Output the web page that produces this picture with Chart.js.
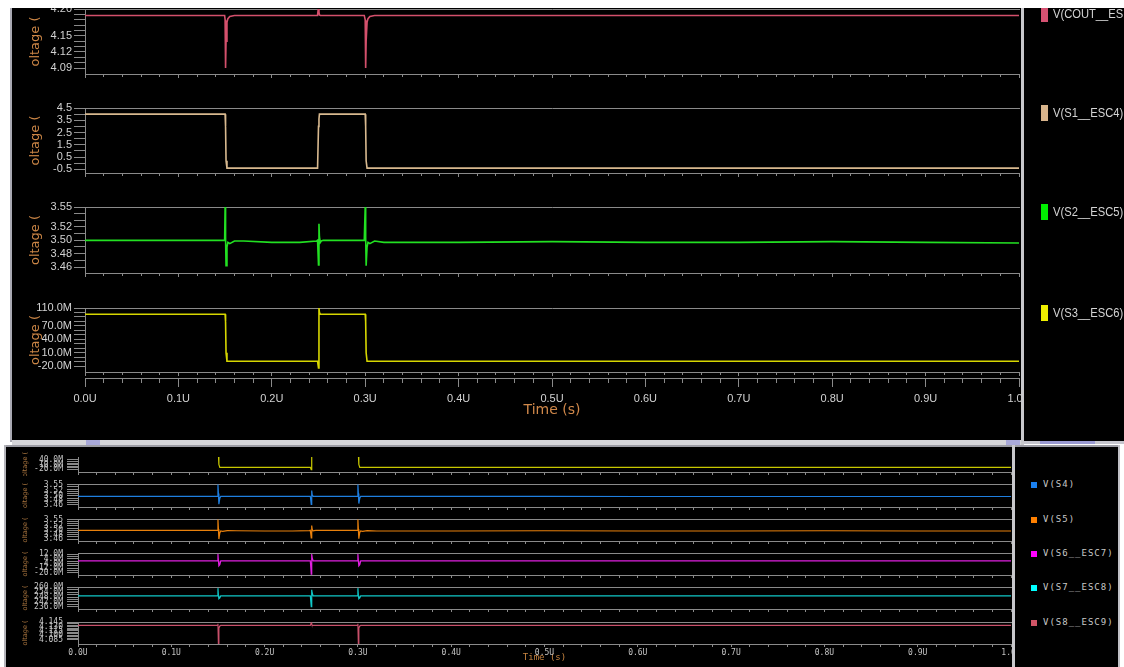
<!DOCTYPE html>
<html lang="en">
<head>
<meta charset="UTF-8">
<title>Waveforms</title>
<script src="https://cdn.jsdelivr.net/npm/chart.js@4.4.1/dist/chart.umd.min.js"></script>
<style>
    body { margin: 0; width: 1124px; height: 667px; background: #fff; position: relative; overflow: hidden; }
    .box { position: absolute; }
    canvas { position: absolute; }
    .leg { position: absolute; white-space: nowrap; z-index: 6; }
    .leg i { position: absolute; left: 0; }
    .leg span { position: absolute; transform-origin: 0 50%; }
</style>
</head>
<body>
<!-- window frames -->
<div class="box" style="left:10px;top:8px;width:1114px;height:434px;background:#000;"></div>
<div class="box" style="left:10px;top:8px;width:2px;height:434px;background:#a9a9b3;"></div>
<div class="box" style="left:12px;top:440px;width:1009px;height:5px;background:#d6d6da;z-index:5;"></div>
<div class="box" style="left:86px;top:440px;width:14px;height:5px;background:#a9a9d9;z-index:5;"></div>
<div class="box" style="left:1006px;top:440px;width:14px;height:5px;background:#a9a9d9;z-index:5;"></div>
<div class="box" style="left:1021px;top:8px;width:3px;height:437px;background:#c8c8cc;z-index:5;"></div>
<div class="box" style="left:1024px;top:8px;width:100px;height:433px;background:#000;z-index:5;"></div>
<div class="box" style="left:1024px;top:441px;width:100px;height:3px;background:#c6c6ce;z-index:5;"></div>
<div class="box" style="left:1040px;top:441px;width:55px;height:3px;background:#9a9ad2;z-index:5;"></div>
<div class="box" style="left:4px;top:445px;width:1116px;height:222px;background:#000;"></div>
<div class="box" style="left:4px;top:445px;width:1116px;height:2px;background:#9c9ca4;"></div>
<div class="box" style="left:4px;top:445px;width:2px;height:222px;background:#b4b4ba;"></div>
<div class="box" style="left:1012px;top:445px;width:3px;height:222px;background:#c8c8cc;z-index:5;"></div>
<div class="box" style="left:1015px;top:447px;width:103px;height:220px;background:#000;z-index:5;"></div>
<div class="box" style="left:1118px;top:445px;width:2px;height:222px;background:#c0c0c6;z-index:5;"></div>
<div class="box" style="left:0;top:0;width:1124px;height:8px;background:#fff;z-index:7;"></div>

<script>
// shared time base (U)
const time = [0, 0.1495, 0.150, 0.1505, 0.151, 0.152, 0.153, 0.155, 0.160, 0.170,
    0.200, 0.230, 0.248, 0.249, 0.250, 0.2505, 0.251, 0.252, 0.253, 0.255,
    0.260, 0.280, 0.299, 0.2995, 0.300, 0.3005, 0.301, 0.302, 0.303, 0.305,
    0.310, 0.320, 0.400, 0.500, 0.600, 0.700, 0.800, 0.900, 1.000];

// upper window
const vCout = [4.188, 4.188, 4.180, 4.090, 4.140, 4.175, 4.182, 4.186, 4.188, 4.188,
    4.188, 4.188, 4.188, 4.188, 4.205, 4.194, 4.189, 4.188, 4.188, 4.188,
    4.188, 4.188, 4.188, 4.188, 4.180, 4.090, 4.140, 4.175, 4.182, 4.186,
    4.188, 4.188, 4.188, 4.188, 4.188, 4.188, 4.188, 4.188, 4.188];
const vS1 = [4.0, 4.0, 4.0, 3.0, 0.2, -0.4, -0.4, -0.4, -0.4, -0.4,
    -0.4, -0.4, -0.4, -0.4, 3.0, 3.6, 4.0, 4.0, 4.0, 4.0,
    4.0, 4.0, 4.0, 4.0, 4.0, 3.0, 0.2, -0.4, -0.4, -0.4,
    -0.4, -0.4, -0.4, -0.4, -0.4, -0.4, -0.4, -0.4, -0.4];
const vS2 = [3.500, 3.500, 3.550, 3.505, 3.462, 3.490, 3.497, 3.495, 3.499, 3.499,
    3.497, 3.497, 3.499, 3.500, 3.463, 3.525, 3.505, 3.497, 3.499, 3.500,
    3.500, 3.500, 3.500, 3.500, 3.550, 3.505, 3.462, 3.490, 3.497, 3.495,
    3.499, 3.497, 3.497, 3.498, 3.497, 3.497, 3.498, 3.497, 3.496];
const vS3 = [96, 96, 96, 80, 10, -9, -9, -9, -9, -9,
    -9, -9, -9, -9, -24, 110, 100, 96, 96, 96,
    96, 96, 96, 96, 96, 80, 10, -9, -9, -9,
    -9, -9, -9, -9, -9, -9, -9, -9, -9];

// lower window
const vS4 = [3.498, 3.498, 3.550, 3.510, 3.463, 3.490, 3.498, 3.498, 3.498, 3.498,
    3.498, 3.498, 3.498, 3.498, 3.462, 3.523, 3.505, 3.498, 3.498, 3.498,
    3.498, 3.498, 3.498, 3.498, 3.550, 3.510, 3.466, 3.490, 3.498, 3.498,
    3.498, 3.498, 3.498, 3.498, 3.497, 3.497, 3.497, 3.497, 3.497];
const vS5 = [3.500, 3.500, 3.550, 3.505, 3.460, 3.488, 3.497, 3.495, 3.499, 3.498,
    3.497, 3.497, 3.499, 3.500, 3.465, 3.522, 3.505, 3.497, 3.499, 3.500,
    3.500, 3.500, 3.500, 3.500, 3.550, 3.505, 3.462, 3.490, 3.497, 3.495,
    3.499, 3.497, 3.497, 3.498, 3.497, 3.497, 3.498, 3.497, 3.497];
const vS6 = [0.5, 0.5, 12, 0.5, -8, -6, 0.5, 0.5, 0.5, 0.5,
    0.5, 0.5, 0.5, 0.5, -22, 12, 6, 0.5, 0.5, 0.5,
    0.5, 0.5, 0.5, 0.5, 12, 0.5, -8, -6, 0.5, 0.5,
    0.5, 0.5, 0.5, 0.5, 0.5, 0.5, 0.5, 0.5, 0.5];
const vS7 = [249.5, 249.5, 259, 250, 246, 247, 249.5, 249.5, 249.5, 249.5,
    249.5, 249.5, 249.5, 249.5, 236, 257, 253, 249.5, 249.5, 249.5,
    249.5, 249.5, 249.5, 249.5, 259, 250, 246, 247, 249.5, 249.5,
    249.5, 249.5, 249.5, 249.5, 249.5, 249.5, 249.5, 249.5, 249.5];
const vS8 = [4.134, 4.134, 4.140, 4.070, 4.125, 4.132, 4.134, 4.134, 4.134, 4.134,
    4.134, 4.134, 4.134, 4.134, 4.143, 4.138, 4.135, 4.134, 4.134, 4.134,
    4.134, 4.134, 4.134, 4.134, 4.140, 4.070, 4.125, 4.132, 4.134, 4.134,
    4.134, 4.134, 4.134, 4.134, 4.134, 4.134, 4.134, 4.134, 4.134];

// tick labels
const timeTicks = [0, 0.1, 0.2, 0.3, 0.4, 0.5, 0.6, 0.7, 0.8, 0.9, 1.0];
const timeLabels = ['0.0U', '0.1U', '0.2U', '0.3U', '0.4U', '0.5U', '0.6U', '0.7U', '0.8U', '0.9U', '1.0U'];
const coutTicks = [4.09, 4.12, 4.15, 4.20];
const s1Ticks = [-0.5, 0.5, 1.5, 2.5, 3.5, 4.5];
const s2Ticks = [3.46, 3.48, 3.50, 3.52, 3.55];
const s3Ticks = [-20, 10, 40, 70, 110];
const s3SmallTicks = [-20, 10, 40];
const s6Ticks = [-20, -12, -4, 4, 12];
const s7Ticks = [236, 242, 248, 254, 260];
const s8Ticks = [4.085, 4.100, 4.115, 4.130, 4.145];

const AXIS = '#8a8a8a';
const SANS = "'Liberation Sans',sans-serif";
const MONO = "'DejaVu Sans Mono',monospace";

function tickList(mains, step) {
    const first = mains[0], last = mains[mains.length - 1];
    const n = Math.round((last - first) / step);
    const out = [];
    for (let k = 0; k <= n; k++) {
        const v = +(first + k * step).toFixed(6);
        const i = mains.findIndex(m => Math.abs(m - v) < step / 10);
        out.push({ value: v, main: i >= 0, mainIndex: i });
    }
    return out;
}

function noPad(s) { s.paddingTop = 0; s.paddingBottom = 0; s.paddingLeft = 0; s.paddingRight = 0; }

function panel(p) {
    const big = p.big;
    const c = document.createElement('canvas');
    c.width = p.w; c.height = p.h;
    c.style.left = p.x + 'px'; c.style.top = p.y + 'px';
    document.body.appendChild(c);

    const scales = {
        x: {
            type: 'linear', min: 0, max: 1, position: 'bottom', weight: 0,
            afterBuildTicks: s => { s.ticks = tickList(timeTicks, 0.02); },
            afterFit: s => { s.height = p.xh; noPad(s); },
            ticks: {
                display: !!p.timeLabels, autoSkip: false, maxRotation: 0,
                color: '#c4c4c4', font: { family: MONO, size: 8 }, padding: 1,
                callback: (v, i, t) => t[i].main ? timeLabels[t[i].mainIndex] : ''
            },
            grid: {
                drawOnChartArea: false, tickLength: big ? 4 : 3, tickColor: AXIS,
                tickBorderDash: ctx => (ctx.tick && ctx.tick.main) ? [] : [2, 20]
            },
            border: { color: AXIS },
            title: {
                display: !!p.timeLabels, text: 'Time (s)', color: '#c88440',
                font: { family: MONO, size: 9 }, padding: { top: 0, bottom: 4 }
            }
        },
        xt: {
            type: 'linear', min: 0, max: 1, position: 'top', display: !p.noTop,
            ticks: { display: false },
            afterFit: s => { s.height = 0; noPad(s); },
            grid: { drawOnChartArea: false, drawTicks: false },
            border: { color: AXIS }
        },
        y: {
            min: p.min, max: p.max,
            afterBuildTicks: s => { s.ticks = tickList(p.ticks, p.step); },
            afterFit: s => { s.width = big ? 73 : 72; noPad(s); },
            ticks: {
                autoSkip: false, color: big ? '#d2d2d2' : '#c4c4c4',
                font: big ? { family: SANS, size: 11 } : { family: MONO, size: 8 },
                padding: big ? 2 : 4,
                callback: (v, i, t) => t[i].main ? p.fmt(v) : ''
            },
            grid: { drawOnChartArea: false, tickLength: 11, tickColor: AXIS },
            border: { color: AXIS },
            title: {
                display: true, text: 'oltage (', color: big ? '#cc8646' : '#a8743e',
                font: big ? { family: 'DejaVu Sans', size: 13 } : { family: 'DejaVu Sans', size: 6.5 },
                padding: { top: big ? 16 : 15, bottom: 0 }
            }
        }
    };
    if (p.timeAxis) {
        scales.x2 = {
            type: 'linear', min: 0, max: 1, position: 'bottom', weight: 1,
            afterBuildTicks: s => { s.ticks = tickList(timeTicks, 0.02); },
            afterFit: s => { s.height = 42; noPad(s); },
            ticks: {
                autoSkip: false, maxRotation: 0, color: '#d2d2d2',
                font: { family: SANS, size: 11 }, padding: 5,
                callback: (v, i, t) => t[i].main ? timeLabels[t[i].mainIndex] : ''
            },
            grid: {
                drawOnChartArea: false, tickLength: 9, tickColor: AXIS,
                tickBorderDash: ctx => (ctx.tick && ctx.tick.main) ? [] : [4, 20]
            },
            border: { color: AXIS },
            title: {
                display: true, text: 'Time (s)', color: '#d0884a',
                font: { family: 'DejaVu Sans', size: 14 }, padding: { top: 0, bottom: 1 }
            }
        };
    }

    const chart = new Chart(c, {
        type: 'line',
        data: {
            datasets: [{
                label: p.label,
                data: time.map((t, i) => ({ x: t, y: p.values[i] })),
                borderColor: p.color,
                backgroundColor: p.key,
                borderWidth: big ? 1.6 : 1.2,
                pointRadius: 0,
                tension: 0
            }]
        },
        options: {
            responsive: false, animation: false, events: [],
            layout: { padding: { top: p.padTop, right: p.padRight, bottom: 0, left: 0 } },
            plugins: { legend: { display: false }, tooltip: { enabled: false } },
            scales: scales
        }
    });

    // legend entry next to the panel
    if (p.label) {
        const ds = chart.data.datasets[0];
        const areaTop = p.y + chart.chartArea.top;
        const item = document.createElement('div');
        item.className = 'leg';
        if (big) {
            item.style.left = '1041px'; item.style.top = (areaTop - 3) + 'px';
            item.innerHTML = '<i style="width:7px;height:16px;background:' + ds.backgroundColor + '"></i>' +
                '<span style="left:12px;top:0;line-height:16px;font:13px ' + SANS + ';color:#d4d4d4;transform:scaleX(0.86)">' + ds.label + '</span>';
        } else {
            item.style.left = '1031px'; item.style.top = (areaTop - 2) + 'px';
            item.innerHTML = '<i style="width:6px;height:6px;background:' + ds.backgroundColor + '"></i>' +
                '<span style="left:12px;top:-3px;line-height:12px;font:9px ' + MONO + ';letter-spacing:1px;color:#c8c8c8">' + ds.label + '</span>';
        }
        document.body.appendChild(item);
    }
    return chart;
}

const f2 = v => v.toFixed(2);
const f1 = v => v.toFixed(1);
const fM = v => v.toFixed(1) + 'M';
const f3 = v => v.toFixed(3);

// upper window panels
const upper = { big: true, x: 12, w: 1020, padTop: 8, padRight: 13, xh: 6 };
panel(Object.assign({}, upper, { y: 1, h: 79, min: 4.079, max: 4.20, ticks: coutTicks, step: 0.01, fmt: f2,
    values: vCout, label: 'V(COUT__ES', color: '#d4506c', key: '#d65272' }));
panel(Object.assign({}, upper, { y: 100, h: 79, min: -0.8, max: 4.5, ticks: s1Ticks, step: 0.5, fmt: f1,
    values: vS1, label: 'V(S1__ESC4)', color: '#d8b98f', key: '#d8b48c' }));
panel(Object.assign({}, upper, { y: 199, h: 80, min: 3.451, max: 3.55, ticks: s2Ticks, step: 0.01, fmt: f2,
    values: vS2, label: 'V(S2__ESC5)', color: '#22e022', key: '#00f000' }));
panel(Object.assign({}, upper, { y: 300, h: 120, min: -33, max: 110, ticks: s3Ticks, step: 10, fmt: fM,
    values: vS3, label: 'V(S3__ESC6)', color: '#d6d600', key: '#f0f000', timeAxis: true }));

// lower window panels
const lower = { big: false, x: 6, w: 1015, padTop: 5, padRight: 10, xh: 4 };
panel(Object.assign({}, lower, { y: 452, h: 24, min: -40, max: 60, ticks: s3SmallTicks, step: 10, fmt: fM,
    values: vS3, color: '#c8c800', noTop: true }));
panel(Object.assign({}, lower, { y: 479, h: 32, min: 3.451, max: 3.552, ticks: s2Ticks, step: 0.01, fmt: f2,
    values: vS4, label: 'V(S4)', color: '#1f7fe0', key: '#1a80f0' }));
panel(Object.assign({}, lower, { y: 514, h: 31, min: 3.451, max: 3.552, ticks: s2Ticks, step: 0.01, fmt: f2,
    values: vS5, label: 'V(S5)', color: '#e8800c', key: '#ff8000' }));
panel(Object.assign({}, lower, { y: 548, h: 31, min: -23.4, max: 13.7, ticks: s6Ticks, step: 4, fmt: fM,
    values: vS6, label: 'V(S6__ESC7)', color: '#e020e0', key: '#ff00ff' }));
panel(Object.assign({}, lower, { y: 582, h: 31, min: 233.2, max: 260.4, ticks: s7Ticks, step: 3, fmt: fM,
    values: vS7, label: 'V(S7__ESC8)', color: '#10c8c8', key: '#00ffff' }));
panel(Object.assign({}, lower, { y: 617, h: 50, min: 4.0696, max: 4.146, ticks: s8Ticks, step: 0.005, fmt: f3,
    values: vS8, label: 'V(S8__ESC9)', color: '#c8506a', key: '#d05466', timeLabels: true, xh: 23 }));
</script>
</body>
</html>
